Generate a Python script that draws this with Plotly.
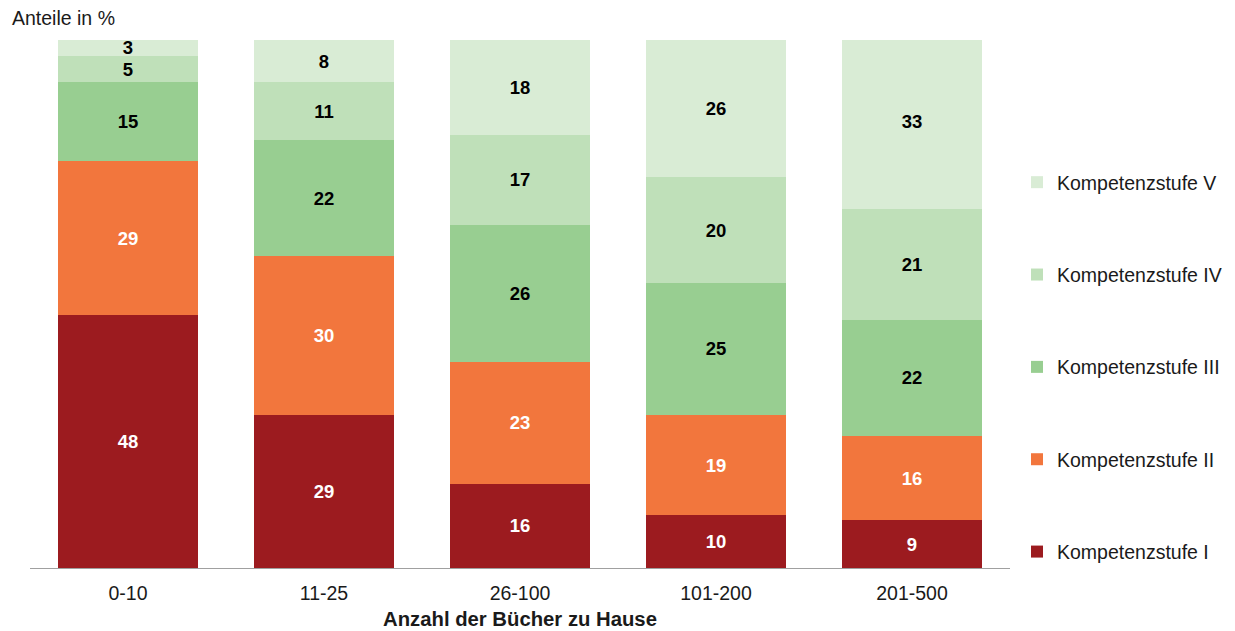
import plotly.graph_objects as go

categories = ["0-10", "11-25", "26-100", "101-200", "201-500"]
series_names = ["Kompetenzstufe I", "Kompetenzstufe II", "Kompetenzstufe III",
                "Kompetenzstufe IV", "Kompetenzstufe V"]
stufe_1 = [48, 29, 16, 10, 9]
stufe_2 = [29, 30, 23, 19, 16]
stufe_3 = [15, 22, 26, 25, 22]
stufe_4 = [5, 11, 17, 20, 21]
stufe_5 = [3, 8, 18, 26, 33]
series_values = [stufe_1, stufe_2, stufe_3, stufe_4, stufe_5]

colors = ["#9c1b1f", "#f2763d", "#98ce91", "#bfe0b9", "#d9ecd5"]
text_colors = ["white", "white", "black", "black", "black"]

FONT = "Liberation Sans, Arial, sans-serif"
FS = 19.5
FS_BIG = 20.3
# page has an 8px body margin, so figure coords = page coords - 8
W, H = 1227, 623
ml, mr, mt, mb = 22, 225, 32, 63
pw = W - ml - mr
ph = H - mt - mb

fig = go.Figure()
for i, (name, vals) in enumerate(zip(series_names, series_values)):
    fig.add_trace(go.Bar(
        x=categories, y=vals, name=name,
        marker=dict(color=colors[i], line=dict(width=0)),
        text=[str(v) for v in vals],
        textposition="inside", insidetextanchor="middle", textangle=0,
        textfont=dict(color=text_colors[i], size=18.5, family=FONT, weight="bold"),
        legendgroup=f"g{i}", legendrank=10 - i,
        hoverinfo="skip",
    ))

fig.update_layout(
    template="none",
    width=W, height=H,
    barmode="stack", bargap=0.286,
    plot_bgcolor="white", paper_bgcolor="white",
    margin=dict(l=ml, r=mr, t=mt, b=mb, pad=0, autoexpand=False),
    font=dict(family=FONT, size=FS, color="#1a1a1a"),
    uniformtext=dict(minsize=18.5, mode="show"),
    showlegend=True,
    legend=dict(
        traceorder="grouped", orientation="v",
        x=(1009 - ml) / pw, xanchor="left",
        y=(H - mb - 155) / ph, yanchor="top",
        tracegroupgap=64, itemwidth=30,
        font=dict(size=19.5, family=FONT, color="#1a1a1a"),
        bgcolor="rgba(0,0,0,0)", borderwidth=0,
    ),
    xaxis=dict(
        automargin=False,
        showline=True, linecolor="#a0a0a0", linewidth=1,
        ticks="", showgrid=False, zeroline=False,
        tickfont=dict(size=FS, family=FONT, color="#1a1a1a"),
        ticklabelstandoff=8,
        title=dict(text="<b>Anzahl der Bücher zu Hause</b>",
                   font=dict(size=FS_BIG, family=FONT, color="#1a1a1a"), standoff=8),
    ),
    yaxis=dict(automargin=False, range=[0, 100], visible=False,
               showgrid=False, zeroline=False),
    annotations=[dict(
        text="Anteile in %", xref="paper", yref="paper",
        x=(2 - ml) / pw, xanchor="left",
        y=(H - mb - 10) / ph, yanchor="middle",
        showarrow=False, font=dict(size=FS, family=FONT, color="#1a1a1a"),
    )],
)

fig.write_html("out.html")
